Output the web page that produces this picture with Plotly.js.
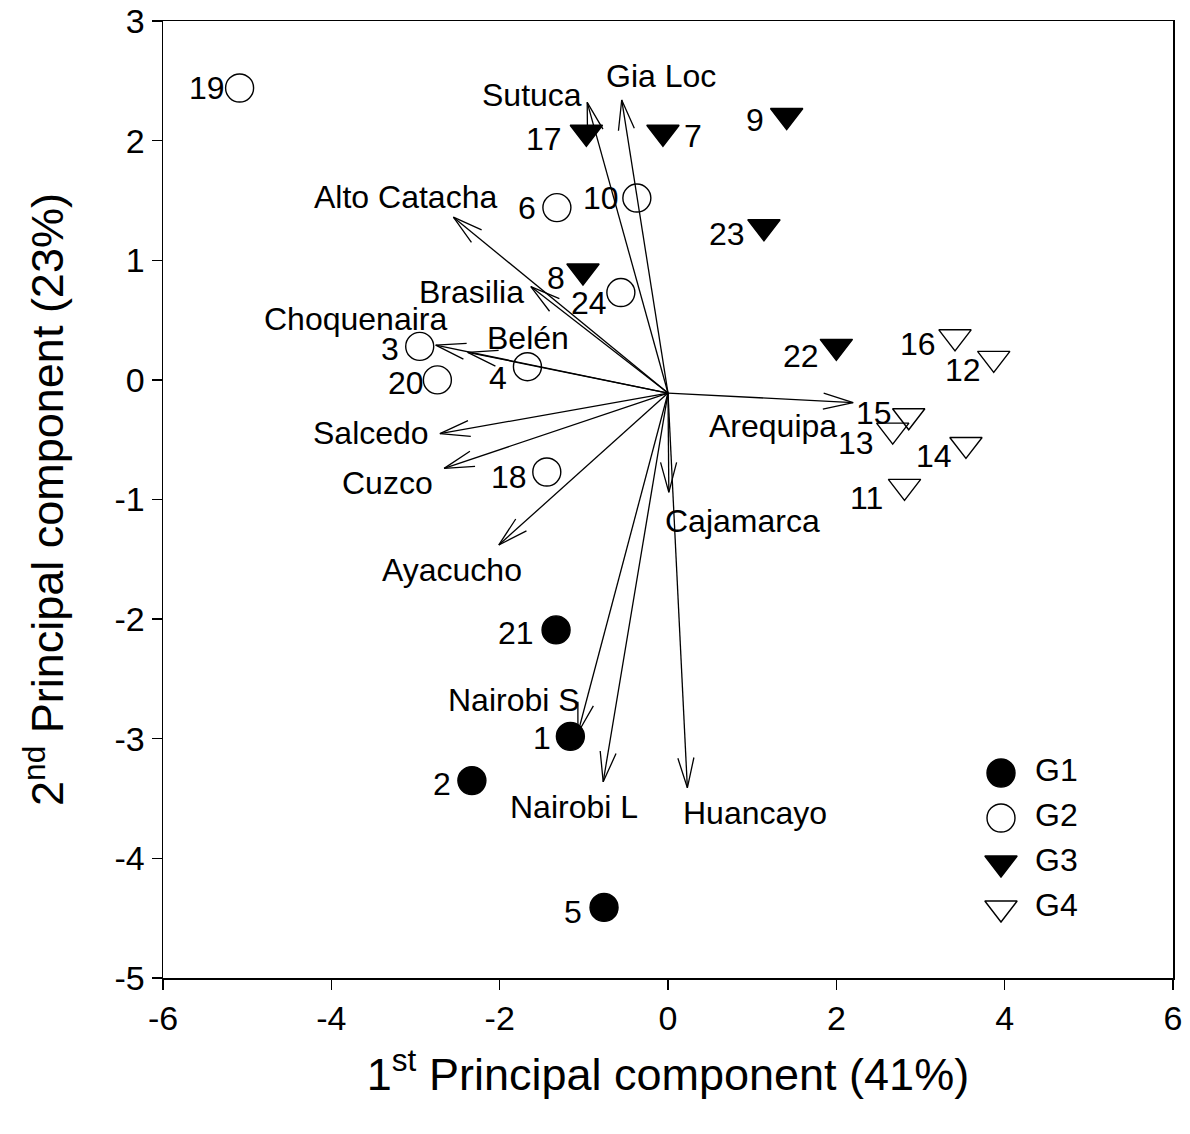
<!DOCTYPE html>
<html><head><meta charset="utf-8">
<script src="https://cdn.plot.ly/plotly-3.0.1.min.js"></script>
<style>body{margin:0;background:#fff}#chart{width:1190px;height:1134px}</style>
</head><body><div id="chart"></div>
<script>
// ---------- data ----------
const groups = ['G1', 'G2', 'G3', 'G4'];
const pointIds = ['1','2','3','4','5','6','7','8','9','10','11','12','13','14','15','16','17','18','19','20','21','22','23','24'];
const pointGroup = ['G1','G1','G2','G2','G1','G2','G3','G3','G3','G2','G4','G4','G4','G4','G4','G4','G3','G2','G2','G2','G1','G3','G3','G2'];
const pc1 = [-1.16,-2.33,-2.95,-1.67,-0.76,-1.32,-0.06,-1.01,1.41,-0.37,2.81,3.87,2.67,3.54,2.86,3.41,-0.97,-1.44,-5.09,-2.74,-1.33,2.00,1.14,-0.56];
const pc2 = [-2.98,-3.35,0.28,0.11,-4.41,1.44,2.07,0.91,2.21,1.52,-0.89,0.18,-0.42,-0.54,-0.30,0.36,2.07,-0.77,2.44,0.00,-2.09,0.28,1.28,0.73];

const varNames = ['Sutuca','Gia Loc','Alto Catacha','Brasilia','Choquenaira','Belén','Salcedo','Cuzco','Ayacucho','Cajamarca','Nairobi S','Nairobi L','Huancayo','Arequipa'];
const varPC1 = [-0.96,-0.55,-2.55,-1.63,-2.76,-2.38,-2.71,-2.66,-2.01,0.01,-1.07,-0.77,0.23,2.20];
const varPC2 = [2.32,2.34,1.36,0.78,0.29,0.23,-0.45,-0.74,-1.38,-0.94,-2.95,-3.36,-3.41,-0.19];
const vecOrigin = [0, -0.11];

const xTickVals = [-6,-4,-2,0,2,4,6];
const xTickText = ['-6','-4','-2','0','2','4','6'];
const yTickVals = [-5,-4,-3,-2,-1,0,1,2,3];
const yTickText = ['-5','-4','-3','-2','-1','0','1','2','3'];

// ---------- styles ----------
const groupStyle = {
  G1: {symbol: 'circle', color: '#000'},
  G2: {symbol: 'circle-open', color: '#000'},
  G3: {symbol: 'triangle-down', color: '#000'},
  G4: {symbol: 'triangle-down-open', color: '#000'}
};
const markerSize = 28;
// label offsets in px (dx: from point to text edge; dy: downward)
const ptLabelDx = [-18,-20,-20,-19,-21,-20,20,-17,-22,-17,-21,-12,-18,-13,-16,-18,-23,-19,-14,-12,-21,-16,-18,-13];
const ptLabelDy = [2,3,3,11,5,0,4,7,4,0,12,12,13,12,-3,7,7,5,0,3,3,10,7,10];
const varLabelDx = [-55,39,-48,-59,-80,60,-69,-57,-47,74,-64,-29,68,-80];
const varLabelDy = [-7,-24,-20,5,-26,-14,-1,15,25,29,-33,25,25,23];

const FONT = 'Liberation Sans, Arial, sans-serif';
const LABEL_SIZE = 32;
const W = 1190, H = 1134;
const M = {l: 163, r: 17, t: 21, b: 156};
const xRange = [-6, 6], yRange = [-5, 3];
const kx = (W - M.l - M.r) / (xRange[1] - xRange[0]);
const ky = (H - M.t - M.b) / (yRange[1] - yRange[0]);

const traces = [];
// group markers
groups.forEach(g => {
  const idx = pointGroup.map((pg, i) => pg === g ? i : -1).filter(i => i >= 0);
  traces.push({
    type: 'scatter', mode: 'markers', name: g, showlegend: false,
    x: idx.map(i => pc1[i]), y: idx.map(i => pc2[i]),
    marker: {symbol: groupStyle[g].symbol, size: markerSize, color: groupStyle[g].color, opacity: 1,
             line: {color: '#000', width: 1.4}},
    hoverinfo: 'skip'
  });
});

// vector shafts and heads
const sx = [], sy = [], hx = [], hy = [];
const headLen = 31, headAng = 15 * Math.PI / 180;
varNames.forEach((v, i) => {
  sx.push(vecOrigin[0], varPC1[i], null);
  sy.push(vecOrigin[1], varPC2[i], null);
  const dxp = (varPC1[i] - vecOrigin[0]) * kx;
  const dyp = (varPC2[i] - vecOrigin[1]) * ky;
  const th = Math.atan2(dyp, dxp);
  [th + headAng, th - headAng].forEach((a, j) => {
    const bx = varPC1[i] - headLen * Math.cos(a) / kx;
    const by = varPC2[i] - headLen * Math.sin(a) / ky;
    if (j === 0) { hx.push(bx, varPC1[i]); hy.push(by, varPC2[i]); }
    else { hx.push(bx, null); hy.push(by, null); }
  });
});
traces.push({type: 'scatter', mode: 'lines', x: sx, y: sy, showlegend: false, hoverinfo: 'skip',
  line: {color: '#000', width: 1.3}});
traces.push({type: 'scatter', mode: 'lines', x: hx, y: hy, showlegend: false, hoverinfo: 'skip',
  line: {color: '#000', width: 1.3}});

// legend (hidden auxiliary axes)
traces.push({
  type: 'scatter', mode: 'markers', xaxis: 'x2', yaxis: 'y2', showlegend: false, hoverinfo: 'skip',
  x: groups.map(() => 0), y: groups.map((g, i) => i),
  marker: {symbol: groups.map(g => groupStyle[g].symbol), size: markerSize, opacity: 1,
           color: '#000', line: {color: '#000', width: 1.4}}
});
traces.push({
  type: 'scatter', mode: 'text', xaxis: 'x2', yaxis: 'y2', showlegend: false, hoverinfo: 'skip',
  x: groups.map(() => 1), y: groups.map((g, i) => i), text: groups,
  textposition: 'middle right', textfont: {family: FONT, size: LABEL_SIZE, color: '#000'}
});

// annotations
const annotations = [];
pointIds.forEach((id, i) => {
  annotations.push({
    x: pc1[i], y: pc2[i], xref: 'x', yref: 'y', text: id, showarrow: false,
    xanchor: ptLabelDx[i] < 0 ? 'right' : 'left', yanchor: 'middle',
    xshift: ptLabelDx[i], yshift: -ptLabelDy[i], borderpad: 0,
    font: {family: FONT, size: LABEL_SIZE, color: '#000'}
  });
});
varNames.forEach((v, i) => {
  annotations.push({
    x: varPC1[i], y: varPC2[i], xref: 'x', yref: 'y', text: v, showarrow: false,
    xanchor: 'center', yanchor: 'middle',
    xshift: varLabelDx[i], yshift: -varLabelDy[i], borderpad: 0,
    font: {family: FONT, size: LABEL_SIZE, color: '#000'}
  });
});

// legend axes placement: marker column at px 1001, rows from 773 spaced 45 px
const plotW = W - M.l - M.r, plotH = H - M.t - M.b;
const lgLeftPx = 980, lgRightPx = 1120, lgTopPx = 750, lgBotPx = 930;
const unitX = 34, unitY = 45, mx = 1001, my0 = 773;
const layout = {
  width: W, height: H, margin: M, paper_bgcolor: '#fff', plot_bgcolor: '#fff',
  font: {family: FONT, color: '#000'},
  showlegend: false,
  xaxis: {
    range: xRange, tickvals: xTickVals, ticktext: xTickText,
    ticks: 'outside', ticklen: 10, tickwidth: 1.3, tickcolor: '#000',
    showline: true, mirror: true, linecolor: '#000', linewidth: 1.5,
    showgrid: false, zeroline: false, tickfont: {size: 34, family: FONT},
    title: {text: '1<sup>st</sup> Principal component (41%)', font: {size: 45, family: FONT}, standoff: 22}
  },
  yaxis: {
    range: yRange, tickvals: yTickVals, ticktext: yTickText,
    ticks: 'outside', ticklen: 10, tickwidth: 1.3, tickcolor: '#000',
    showline: true, mirror: true, linecolor: '#000', linewidth: 1.5,
    showgrid: false, zeroline: false, tickfont: {size: 34, family: FONT},
    title: {text: '2<sup>nd</sup> Principal component (23%)', font: {size: 45, family: FONT}, standoff: 36}
  },
  xaxis2: {
    domain: [(lgLeftPx - M.l) / plotW, (lgRightPx - M.l) / plotW], anchor: 'y2',
    range: [(lgLeftPx - mx) / unitX, (lgRightPx - mx) / unitX],
    visible: false, fixedrange: true
  },
  yaxis2: {
    domain: [(M.t + plotH - lgBotPx) / plotH, (M.t + plotH - lgTopPx) / plotH], anchor: 'x2',
    range: [(lgBotPx - my0) / unitY, (lgTopPx - my0) / unitY],
    visible: false, fixedrange: true
  },
  annotations: annotations
};

Plotly.newPlot('chart', traces, layout, {staticPlot: true});
</script>
</body></html>
